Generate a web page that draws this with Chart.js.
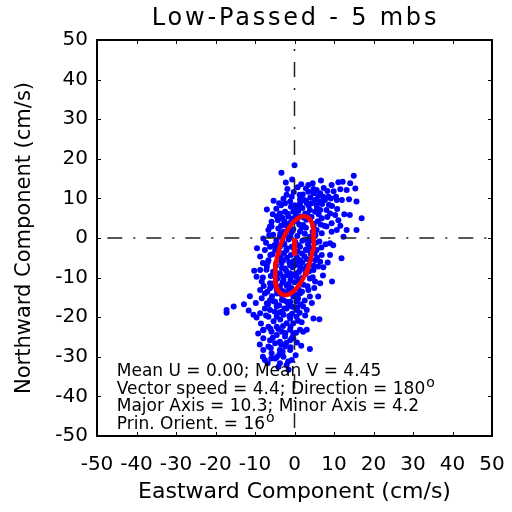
<!DOCTYPE html>
<html><head><meta charset="utf-8">
<script src="https://cdn.jsdelivr.net/npm/chart.js@4.4.1/dist/chart.umd.min.js"></script>
<style>html,body{margin:0;padding:0;background:#fff;} #c{display:block;}</style>
</head><body>
<canvas id="c" width="512" height="512"></canvas>
<script>
const titleText = 'Low-Passed - 5 mbs';
const xTitle = 'Eastward Component (cm/s)';
const yTitle = 'Northward Component (cm/s)';
const axisTicks = [-50, -40, -30, -20, -10, 0, 10, 20, 30, 40, 50];

const eastward = [
  0.0,-3.3,-0.6,3.5,2.9,4.6,6.7,9.4,11.1,12.2,15.0,14.1,13.2,
  -2.0,-0.7,1.4,2.4,3.5,4.8,5.6,6.5,7.3,5.2,6.5,8.6,10.5,10.7,-3.4,-2.4,-1.1,0.1,1.4,3.1,4.3,5.6,15.7,
  -7.0,-5.8,-3.7,-2.4,-1.6,-0.3,1.4,2.7,3.9,5.2,6.5,8.1,9.0,10.3,11.1,12.6,17.0,6.9,9.4,-4.5,
  -7.9,-6.6,-5.8,-4.1,-2.8,-1.6,-5.4,-3.7,-2.4,2.2,4.8,5.6,6.9,8.1,9.4,10.7,13.2,15.7,9.0,9.8,12.4,-6.2,
  -8.7,-7.5,-6.2,-4.9,-3.7,-2.0,-0.7,1.4,3.1,4.3,5.6,6.9,9.0,11.9,-6.6,5.2,6.5,-2.8,1.4,
  -9.6,-8.7,-7.0,-5.4,-3.7,-2.4,-1.1,1.4,3.1,4.8,6.0,7.3,-8.3,-6.2,-2.8,0.5,1.4,3.9,5.2,9.5,6.5,
  -8.7,-7.5,-6.2,-4.5,-3.2,-1.6,-0.3,1.4,3.5,3.9,-8.3,-6.2,-4.9,-2.8,-1.1,0.5,6.0,-15.4,-12.8,-7.0,
  -17.2,-17.2,-10.4,-8.7,-7.5,-6.2,-4.5,-3.2,-2.0,-0.7,0.5,2.2,3.1,-6.6,-4.5,-2.8,-1.1,0.5,6.3,4.8,-2.0,-0.3,
  -9.2,-7.9,-6.6,-5.8,-4.5,-3.2,-2.4,-1.1,-0.3,1.4,2.2,3.1,-7.9,-6.2,-3.7,-1.1,-0.3,-4.5,
  -7.9,-6.6,-5.8,-3.7,-2.4,-1.1,3.9,-4.9,-2.8,-0.7,-3.7,-2.0,-7.5,-8.0,-1.5,-4.5,
  -4.2,-3.1,-1.2,0.6,1.8,3.0,-2.2,-0.8,0.7,2.6,
  3.9,-4.6,-3.0,-1.5,0.2,2.0,3.4,-5.1,-2.6,-0.9,
  0.8,2.5,4.1,-5.6,-4.0,-1.3,0.3,2.0,3.6,-4.7,
  -3.2,-0.5,1.1,2.8,-6.0,-4.4,-1.9,0.0,2.3,-5.3,
  -3.7,-0.8,1.0,-6.9,-2.3,0.9,-5.7,-1.5,-3.9,1.6,
  -7.8,-8.0,-7.2,-6.4,5.4,4.6,5.9,7.5,8.3,7.0,
  8.7,9.9,11.6,6.0,4.0,2.1,0.8,-1.8,-2.8,-4.6,
  -5.5,1.0,-0.9,3.3,2.0,7.9,6.8,8.4,7.2,5.0,
  4.4,2.7,-1.0,-5.3,-8.5,-9.8,-11.3,-10.2,-9.5,1.7,
  -8.8,-6.8,-4.1,0.3,10.8,12.0,13.8,11.6,15.4,14.0,
  -1.7,0.4,-3.4,1.2,2.9,-0.3,-2.6,1.0,2.9,-4.0,
  -1.9,0.6,3.1,-3.3,-0.2,1.6,-2.1,0.3,-4.1,1.9,
  -3.0,-1.0,3.3,-2.0,-4.4,-0.4,1.9,-3.2,-0.1,-2.6,
  1.3,-5.0,-3.6,-0.6,1.8,-7.2,-6.1,-2.9,0.4,-4.9,
  -2.1,-6.0,-9.6,-11.6,2.6,3.7,4.6,5.7,4.9,6.3,
  4.4,5.3,6.6,4.3,5.7,2.9,4.8,7.4,8.3,9.5,
  -0.2,1.7,-2.2,-5.3,-6.1,-7.1,-8.0,-6.7,-7.9,-3.0,
  -1.6,0.6,
  -3.6,-1.0,1.4,3.2,-2.0,0.0,1.9,-3.5,-1.1,1.0,
  2.7,-2.9,-0.7,1.2,-4.9,-1.5,0.4,-3.0,-5.3,-2.0,
  0.7,-3.8,-1.3,0.9,-4.1,-2.3,-0.6,-5.5,-3.4,-1.0,
  -3.9,-5.9,0.9,2.4,-0.6,-2.6,1.3,3.6,4.9,6.1,
  7.7,9.2,-4.4,-6.8,-5.0,3.9,5.1,-1.6,0.3,-3.9
];
const northward = [
  18.4,16.5,14.8,13.4,12.5,13.8,14.5,13.4,14.1,14.2,15.7,13.8,12.1,
  10.9,10.4,9.8,9.6,11.7,11.3,12.1,11.3,10.4,9.6,9.2,10.4,10.4,9.6,8.3,8.8,9.2,8.3,8.8,8.8,8.8,8.3,9.2,
  7.2,4.1,6.2,6.6,5.4,6.6,5.4,6.2,7.1,6.6,7.1,7.1,6.2,5.8,4.5,6.0,5.0,5.0,3.7,5.4,
  -0.1,2.0,2.9,2.4,1.6,2.4,0.8,0.3,3.3,3.3,2.9,2.0,1.2,2.9,1.6,2.0,2.0,2.0,-1.3,-1.8,0.3,2.9,
  -4.7,-3.0,-2.2,-3.0,-2.2,-3.0,-2.2,-2.2,-3.0,-2.6,-3.0,-4.3,-4.3,-5.1,-5.6,-5.6,-6.0,-5.6,-5.6,
  -9.8,-8.1,-7.2,-8.5,-8.9,-7.7,-8.9,-8.1,-7.2,-8.1,-7.2,-7.4,-11.0,-11.4,-10.6,-9.8,-11.0,-10.2,-11.0,-11.0,-11.4,
  -13.1,-14.0,-12.7,-13.1,-14.4,-13.1,-14.8,-14.0,-13.1,-14.8,-15.2,-15.7,-16.1,-15.7,-16.1,-16.1,-14.8,-17.3,-16.7,-16.5,
  -18.2,-18.9,-19.4,-19.0,-17.8,-18.2,-17.3,-18.6,-17.8,-17.3,-18.2,-17.3,-18.2,-19.9,-19.9,-19.4,-20.3,-19.9,-20.5,-20.3,-21.5,-21.5,
  -24.1,-23.2,-22.4,-23.7,-22.4,-23.7,-24.9,-23.2,-24.1,-23.2,-23.7,-23.2,-25.3,-25.8,-26.2,-25.8,-25.3,-24.5,
  -28.3,-27.4,-29.1,-28.3,-27.4,-28.3,-28.0,-30.4,-30.0,-30.8,-31.6,-32.1,-30.8,-30.0,-33.3,-30.1,
  4.5,5.1,3.8,4.2,2.6,4.6,0.9,1.4,0.5,1.1,
  0.3,-0.6,-1.1,-0.4,-1.0,-0.7,-1.6,-1.8,-3.8,-4.3,
  -3.5,-4.6,-4.0,-4.1,-5.2,-6.1,-6.8,-6.2,-6.9,-7.0,
  -7.6,-7.4,-8.6,-9.1,-9.6,-10.3,-9.4,-11.2,-11.8,-12.0,
  -12.2,-12.6,-12.9,-13.6,-14.1,-15.3,-14.7,-16.9,-17.0,-16.7,
  -12.1,-6.3,-1.2,0.7,-1.2,1.6,4.2,3.1,5.3,8.6,
  8.4,11.8,12.3,10.6,10.2,11.0,12.8,12.4,9.9,7.4,
  6.0,6.9,7.9,6.0,7.6,-1.6,-2.4,-6.2,-9.5,-12.6,
  -16.4,-19.6,-22.5,-21.0,-21.6,-16.4,-14.7,-8.3,-2.6,-27.2,
  -26.9,-31.6,-32.6,-29.6,7.3,9.6,9.8,3.1,12.5,5.8,
  6.1,5.6,3.1,3.4,2.6,2.2,-1.6,-1.8,-2.9,-3.4,
  -5.0,-4.9,-5.3,-6.3,-5.8,-7.3,-8.3,-9.0,-9.0,-10.1,
  -11.2,-10.6,-12.2,-12.0,-14.0,-13.7,-13.6,-15.6,-17.5,-17.8,
  -18.9,-18.6,-20.6,-19.1,-21.3,-19.6,-22.9,-22.2,-23.9,-26.6,
  -26.5,-27.8,-20.1,-18.3,-15.8,-8.4,-9.9,-5.0,-7.0,-0.9,
  -0.6,0.7,3.4,5.3,7.6,9.4,12.4,12.6,11.9,8.1,
  11.6,13.6,14.0,9.4,-4.3,-8.0,-10.0,-16.8,-23.3,-28.7,
  -31.2,-26.4,
  1.1,0.1,1.6,-0.4,-2.6,-3.1,-3.9,-4.6,-6.9,-6.0,
  -7.9,-9.8,-9.5,-10.7,-11.2,-11.6,-14.3,-13.4,-16.0,-16.1,
  -17.6,-18.8,-19.7,-20.9,-23.0,-24.0,-25.2,-25.2,-26.9,-27.6,
  -29.5,-30.4,8.0,5.1,4.9,4.2,10.9,8.2,3.6,6.0,
  9.6,10.0,-1.9,-6.2,-8.4,-2.6,-3.8,2.8,7.0,8.8
];

// variance ellipse and mean vector (from the stats shown on the chart)
const ellipseCenter = [0, -4.45];
const ellipseSemiAxes = [10.3, 4.2];   // major, minor
const ellipseOrientDeg = 16;            // clockwise from north
const meanVector = [4.4, 180];          // speed, direction (deg)
const statsLines = [
  ['Mean U = 0.00; Mean V = 4.45', ''],
  ['Vector speed = 4.4; Direction = 180', 'o'],
  ['Major Axis = 10.3; Minor Axis = 4.2', ''],
  ['Prin. Orient. = 16', 'o']
];

const FONT = 'DejaVu Sans';
const scatterPts = eastward.map((x, i) => ({x: x, y: northward[i]}));

const th = ellipseOrientDeg * Math.PI / 180;
const ellipsePts = [];
for (let d = 0; d <= 360; d += 4) {
  const t = d * Math.PI / 180;
  const a = ellipseSemiAxes[0] * Math.cos(t), b = ellipseSemiAxes[1] * Math.sin(t);
  ellipsePts.push({
    x: ellipseCenter[0] + a * Math.sin(th) + b * Math.cos(th),
    y: ellipseCenter[1] + a * Math.cos(th) - b * Math.sin(th)
  });
}
const dir = meanVector[1] * Math.PI / 180;
const vectorPts = [{x: 0, y: 0}, {x: meanVector[0] * Math.sin(dir), y: meanVector[0] * Math.cos(dir)}];

const overlay = {
  id: 'overlay',
  afterDatasetDraw(chart, args) {
    if (args.index !== 0) return;
    const {ctx, chartArea: a, scales: {x, y}} = chart;
    ctx.save();
    ctx.strokeStyle = '#222';
    ctx.lineWidth = 1.5;
    ctx.setLineDash([15, 11, 2, 11]);
    const y0 = y.getPixelForValue(0), x0 = x.getPixelForValue(0);
    ctx.lineDashOffset = 28.7;
    ctx.beginPath(); ctx.moveTo(a.left, y0); ctx.lineTo(a.right, y0); ctx.stroke();
    ctx.lineDashOffset = 17;
    ctx.beginPath(); ctx.moveTo(x0, a.top); ctx.lineTo(x0, a.bottom); ctx.stroke();
    ctx.restore();
  },
  afterDraw(chart) {
    const {ctx, chartArea: a, scales: {x, y}} = chart;
    ctx.save();
    ctx.strokeStyle = '#000';
    ctx.lineWidth = 1;
    const tl = 4;
    ctx.beginPath();
    axisTicks.forEach(v => {
      const px = Math.round(x.getPixelForValue(v)) + 0.5;
      ctx.moveTo(px, a.bottom); ctx.lineTo(px, a.bottom - tl);
      ctx.moveTo(px, a.top); ctx.lineTo(px, a.top + tl);
      const py = Math.round(y.getPixelForValue(v)) + 0.5;
      ctx.moveTo(a.left, py); ctx.lineTo(a.left + tl, py);
      ctx.moveTo(a.right, py); ctx.lineTo(a.right - tl, py);
    });
    ctx.stroke();
    ctx.lineWidth = 2;
    ctx.strokeRect(a.left, a.top, a.right - a.left, a.bottom - a.top);
    ctx.fillStyle = '#000';
    // title
    ctx.font = '24px "' + FONT + '"';
    ctx.textAlign = 'center';
    ctx.textBaseline = 'middle';
    try { ctx.letterSpacing = '2.8px'; } catch (e) {}
    ctx.fillText(titleText, (a.left + a.right) / 2 + 1, 19);
    try { ctx.letterSpacing = '0px'; } catch (e) {}
    // stats text
    ctx.textAlign = 'left';
    ctx.textBaseline = 'alphabetic';
    const tx = x.getPixelForValue(-45);
    const baseY = [376, 394, 411, 429];
    statsLines.forEach((ln, i) => {
      ctx.font = '17px "' + FONT + '"';
      ctx.fillText(ln[0], tx, baseY[i]);
      if (ln[1]) {
        const w = ctx.measureText(ln[0]).width;
        ctx.font = '14px "' + FONT + '"';
        ctx.fillText(ln[1], tx + w + 1, baseY[i] - 7);
      }
    });
    ctx.restore();
  }
};

new Chart(document.getElementById('c'), {
  type: 'scatter',
  data: {
    datasets: [
      {data: scatterPts, backgroundColor: '#0000ff', borderWidth: 0, pointRadius: 3, order: 3},
      {data: ellipsePts, showLine: true, borderColor: '#ff0000', borderWidth: 4.5, pointRadius: 0, tension: 0, fill: false, order: 2},
      {data: vectorPts, showLine: true, borderColor: '#ff0000', borderWidth: 5, pointRadius: 0, borderCapStyle: 'butt', order: 1}
    ]
  },
  options: {
    responsive: false,
    animation: false,
    devicePixelRatio: 1,
    layout: {padding: {left: 0, right: 20, top: 40, bottom: 0}},
    plugins: {
      legend: {display: false},
      tooltip: {enabled: false},
      title: {display: false}
    },
    scales: {
      x: {
        type: 'linear', min: -50, max: 50,
        afterBuildTicks: s => { s.ticks = axisTicks.map(v => ({value: v})); },
        afterFit: s => { s.height = 76; s.paddingLeft = 0; s.paddingRight = 0; },
        grid: {display: false, drawTicks: false}, border: {display: false},
        ticks: {color: '#000', font: {family: FONT, size: 20}, padding: 17, maxRotation: 0, autoSkip: false},
        title: {display: true, text: xTitle, color: '#000', font: {family: FONT, size: 22}, padding: {top: 0, bottom: 7}}
      },
      y: {
        type: 'linear', min: -50, max: 50,
        afterBuildTicks: s => { s.ticks = axisTicks.map(v => ({value: v})); },
        afterFit: s => { s.width = 97; },
        grid: {display: false, drawTicks: false}, border: {display: false},
        ticks: {color: '#000', font: {family: FONT, size: 20}, padding: 9, autoSkip: false},
        title: {display: true, text: yTitle, color: '#000', font: {family: FONT, size: 21}, padding: {top: 12, bottom: 0}}
      }
    }
  },
  plugins: [overlay]
});
</script>
</body></html>
